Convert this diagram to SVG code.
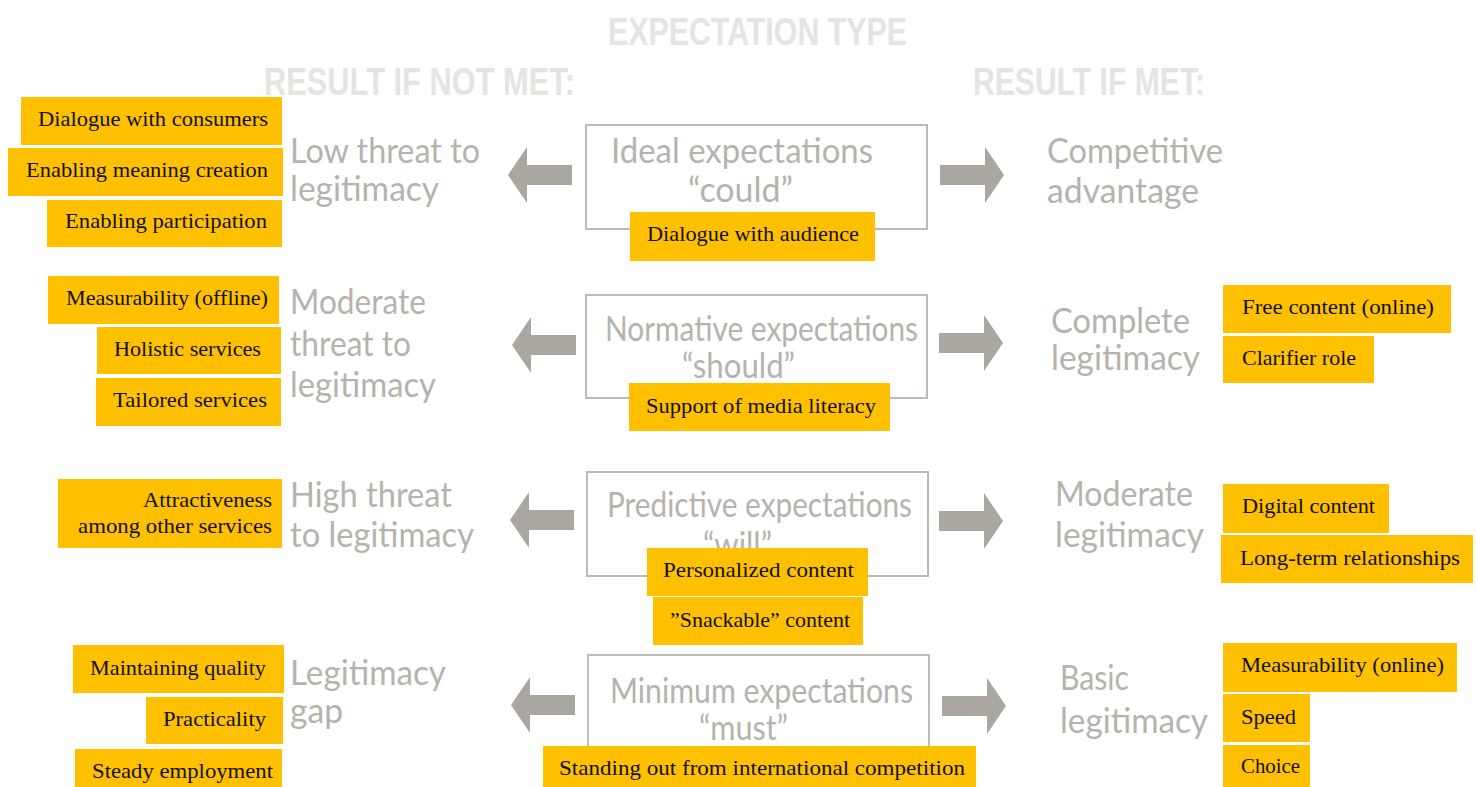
<svg xmlns="http://www.w3.org/2000/svg" xmlns:xlink="http://www.w3.org/1999/xlink" width="1477" height="787" viewBox="0 0 1477 787">
  <style>
    .head { font-family: "Liberation Sans", Arial, sans-serif; font-weight: bold; font-size: 39px; fill: #e4e4e0; }
    .gray { font-family: Lato, "Open Sans", sans-serif; font-size: 34px; fill: #b5b3ac; }
    .frame { fill: #ffffff; stroke: #bdbbb4; stroke-width: 2; }
    .tag { fill: #ffc000; }
    .lbl { font-family: "Liberation Serif", "Times New Roman", serif; font-size: 22px; fill: #111111; }
    .arrow { fill: #a9a79f; }
  </style>
  <defs>
    <!-- block arrow pointing left, tip at origin -->
    <path id="arrowL" d="M0,0 L19,-28 L19,-10 L64,-10 L64,10 L19,10 L19,28 Z"/>
    <!-- block arrow pointing right, tip at origin -->
    <path id="arrowR" d="M0,0 L-19,-28 L-19,-10 L-64,-10 L-64,10 L-19,10 L-19,28 Z"/>
  </defs>

  <rect width="1477" height="787" fill="#ffffff"/>

  <!-- column headings -->
  <g id="headings">
    <text class="head" x="608" y="45" textLength="299" lengthAdjust="spacingAndGlyphs">EXPECTATION TYPE</text>
    <text class="head" x="264" y="95" textLength="311" lengthAdjust="spacingAndGlyphs">RESULT IF NOT MET:</text>
    <text class="head" x="973" y="95" textLength="232" lengthAdjust="spacingAndGlyphs">RESULT IF MET:</text>
  </g>

  <!-- arrows from each expectation type to its results -->
  <g id="connectors" class="arrow">
    <use xlink:href="#arrowL" x="508" y="175"/>
    <use xlink:href="#arrowR" x="1004" y="175"/>
    <use xlink:href="#arrowL" x="512" y="345"/>
    <use xlink:href="#arrowR" x="1003" y="343"/>
    <use xlink:href="#arrowL" x="510" y="520"/>
    <use xlink:href="#arrowR" x="1003" y="521"/>
    <use xlink:href="#arrowL" x="511" y="705"/>
    <use xlink:href="#arrowR" x="1006" y="706"/>
  </g>

  <!-- expectation type boxes -->
  <g id="ideal">
    <rect class="frame" x="586" y="125" width="341" height="104"/>
    <text class="gray" x="611" y="163" textLength="262" lengthAdjust="spacingAndGlyphs">Ideal expectations</text>
    <text class="gray" x="688" y="202" textLength="105" lengthAdjust="spacingAndGlyphs">“could”</text>
  </g>
  <g id="normative">
    <rect class="frame" x="586" y="295" width="341" height="103"/>
    <text class="gray" x="605" y="341" textLength="313" lengthAdjust="spacingAndGlyphs">Normative expectations</text>
    <text class="gray" x="682" y="378" textLength="113" lengthAdjust="spacingAndGlyphs">“should”</text>
  </g>
  <g id="predictive">
    <rect class="frame" x="587" y="472" width="341" height="104"/>
    <text class="gray" x="607" y="517" textLength="305" lengthAdjust="spacingAndGlyphs">Predictive expectations</text>
    <text class="gray" x="703" y="557" textLength="69" lengthAdjust="spacingAndGlyphs">“will”</text>
  </g>
  <g id="minimum">
    <rect class="frame" x="588" y="655" width="341" height="104"/>
    <text class="gray" x="610" y="703" textLength="303" lengthAdjust="spacingAndGlyphs">Minimum expectations</text>
    <text class="gray" x="699" y="740" textLength="89" lengthAdjust="spacingAndGlyphs">“must”</text>
  </g>

  <!-- results if not met -->
  <g id="low-threat">
    <text class="gray" x="290" y="163" textLength="190" lengthAdjust="spacingAndGlyphs">Low threat to</text>
    <text class="gray" x="290" y="201" textLength="149" lengthAdjust="spacingAndGlyphs">legitimacy</text>
  </g>
  <g id="moderate-threat">
    <text class="gray" x="290" y="314" textLength="136" lengthAdjust="spacingAndGlyphs">Moderate</text>
    <text class="gray" x="290" y="356" textLength="121" lengthAdjust="spacingAndGlyphs">threat to</text>
    <text class="gray" x="290" y="397" textLength="146" lengthAdjust="spacingAndGlyphs">legitimacy</text>
  </g>
  <g id="high-threat">
    <text class="gray" x="290" y="507" textLength="162" lengthAdjust="spacingAndGlyphs">High threat</text>
    <text class="gray" x="290" y="547" textLength="184" lengthAdjust="spacingAndGlyphs">to legitimacy</text>
  </g>
  <g id="legitimacy-gap">
    <text class="gray" x="290" y="685" textLength="156" lengthAdjust="spacingAndGlyphs">Legitimacy</text>
    <text class="gray" x="290" y="723" textLength="53" lengthAdjust="spacingAndGlyphs">gap</text>
  </g>

  <!-- results if met -->
  <g id="competitive-advantage">
    <text class="gray" x="1047" y="163" textLength="176" lengthAdjust="spacingAndGlyphs">Competitive</text>
    <text class="gray" x="1047" y="203" textLength="152" lengthAdjust="spacingAndGlyphs">advantage</text>
  </g>
  <g id="complete-legitimacy">
    <text class="gray" x="1051" y="333" textLength="139" lengthAdjust="spacingAndGlyphs">Complete</text>
    <text class="gray" x="1051" y="370" textLength="149" lengthAdjust="spacingAndGlyphs">legitimacy</text>
  </g>
  <g id="moderate-legitimacy">
    <text class="gray" x="1055" y="506" textLength="138" lengthAdjust="spacingAndGlyphs">Moderate</text>
    <text class="gray" x="1055" y="547" textLength="149" lengthAdjust="spacingAndGlyphs">legitimacy</text>
  </g>
  <g id="basic-legitimacy">
    <text class="gray" x="1060" y="690" textLength="69" lengthAdjust="spacingAndGlyphs">Basic</text>
    <text class="gray" x="1060" y="733" textLength="148" lengthAdjust="spacingAndGlyphs">legitimacy</text>
  </g>

  <!-- yellow tags: left column -->
  <g id="tag-dialogue-consumers">
    <rect class="tag" x="21" y="97" width="261" height="48"/>
    <text class="lbl" x="38" y="126" textLength="230" lengthAdjust="spacingAndGlyphs">Dialogue with consumers</text>
  </g>
  <g id="tag-meaning-creation">
    <rect class="tag" x="8" y="148" width="275" height="48"/>
    <text class="lbl" x="26" y="177" textLength="242" lengthAdjust="spacingAndGlyphs">Enabling meaning creation</text>
  </g>
  <g id="tag-participation">
    <rect class="tag" x="47" y="200" width="235" height="47"/>
    <text class="lbl" x="65" y="228" textLength="202" lengthAdjust="spacingAndGlyphs">Enabling participation</text>
  </g>
  <g id="tag-measurability-offline">
    <rect class="tag" x="48" y="276" width="231" height="48"/>
    <text class="lbl" x="66" y="305" textLength="202" lengthAdjust="spacingAndGlyphs">Measurability (offline)</text>
  </g>
  <g id="tag-holistic">
    <rect class="tag" x="97" y="327" width="184" height="47"/>
    <text class="lbl" x="114" y="356" textLength="147" lengthAdjust="spacingAndGlyphs">Holistic services</text>
  </g>
  <g id="tag-tailored">
    <rect class="tag" x="96" y="378" width="185" height="48"/>
    <text class="lbl" x="113" y="407" textLength="154" lengthAdjust="spacingAndGlyphs">Tailored services</text>
  </g>
  <g id="tag-attractiveness">
    <rect class="tag" x="58" y="479" width="224" height="69"/>
    <text class="lbl" x="272" y="507" text-anchor="end" textLength="129" lengthAdjust="spacingAndGlyphs">Attractiveness</text>
    <text class="lbl" x="272" y="533" text-anchor="end" textLength="194" lengthAdjust="spacingAndGlyphs">among other services</text>
  </g>
  <g id="tag-quality">
    <rect class="tag" x="73" y="645" width="211" height="48"/>
    <text class="lbl" x="90" y="675" textLength="176" lengthAdjust="spacingAndGlyphs">Maintaining quality</text>
  </g>
  <g id="tag-practicality">
    <rect class="tag" x="146" y="697" width="137" height="47"/>
    <text class="lbl" x="163" y="726" textLength="103" lengthAdjust="spacingAndGlyphs">Practicality</text>
  </g>
  <g id="tag-employment">
    <rect class="tag" x="75" y="749" width="207" height="48"/>
    <text class="lbl" x="92" y="778" textLength="181" lengthAdjust="spacingAndGlyphs">Steady employment</text>
  </g>

  <!-- yellow tags: centre column -->
  <g id="tag-dialogue-audience">
    <rect class="tag" x="630" y="212" width="245" height="49"/>
    <text class="lbl" x="647" y="241" textLength="212" lengthAdjust="spacingAndGlyphs">Dialogue with audience</text>
  </g>
  <g id="tag-media-literacy">
    <rect class="tag" x="629" y="383" width="261" height="48"/>
    <text class="lbl" x="646" y="413" textLength="230" lengthAdjust="spacingAndGlyphs">Support of media literacy</text>
  </g>
  <g id="tag-personalized">
    <rect class="tag" x="647" y="548" width="221" height="48"/>
    <text class="lbl" x="663" y="577" textLength="191" lengthAdjust="spacingAndGlyphs">Personalized content</text>
  </g>
  <g id="tag-snackable">
    <rect class="tag" x="653" y="597" width="210" height="48"/>
    <text class="lbl" x="670" y="627" textLength="180" lengthAdjust="spacingAndGlyphs">”Snackable” content</text>
  </g>
  <g id="tag-international">
    <rect class="tag" x="543" y="746" width="433" height="48"/>
    <text class="lbl" x="559" y="775" textLength="406" lengthAdjust="spacingAndGlyphs">Standing out from international competition</text>
  </g>

  <!-- yellow tags: right column -->
  <g id="tag-free-content">
    <rect class="tag" x="1223" y="285" width="228" height="48"/>
    <text class="lbl" x="1242" y="314" textLength="192" lengthAdjust="spacingAndGlyphs">Free content (online)</text>
  </g>
  <g id="tag-clarifier">
    <rect class="tag" x="1223" y="336" width="151" height="47"/>
    <text class="lbl" x="1242" y="365" textLength="114" lengthAdjust="spacingAndGlyphs">Clarifier role</text>
  </g>
  <g id="tag-digital">
    <rect class="tag" x="1223" y="484" width="166" height="49"/>
    <text class="lbl" x="1242" y="513" textLength="133" lengthAdjust="spacingAndGlyphs">Digital content</text>
  </g>
  <g id="tag-long-term">
    <rect class="tag" x="1221" y="535" width="252" height="48"/>
    <text class="lbl" x="1240" y="565" textLength="220" lengthAdjust="spacingAndGlyphs">Long-term relationships</text>
  </g>
  <g id="tag-measurability-online">
    <rect class="tag" x="1223" y="643" width="234" height="49"/>
    <text class="lbl" x="1241" y="672" textLength="203" lengthAdjust="spacingAndGlyphs">Measurability (online)</text>
  </g>
  <g id="tag-speed">
    <rect class="tag" x="1223" y="694" width="87" height="48"/>
    <text class="lbl" x="1241" y="724" textLength="55" lengthAdjust="spacingAndGlyphs">Speed</text>
  </g>
  <g id="tag-choice">
    <rect class="tag" x="1223" y="745" width="87" height="48"/>
    <text class="lbl" x="1241" y="773" textLength="59" lengthAdjust="spacingAndGlyphs">Choice</text>
  </g>
</svg>
